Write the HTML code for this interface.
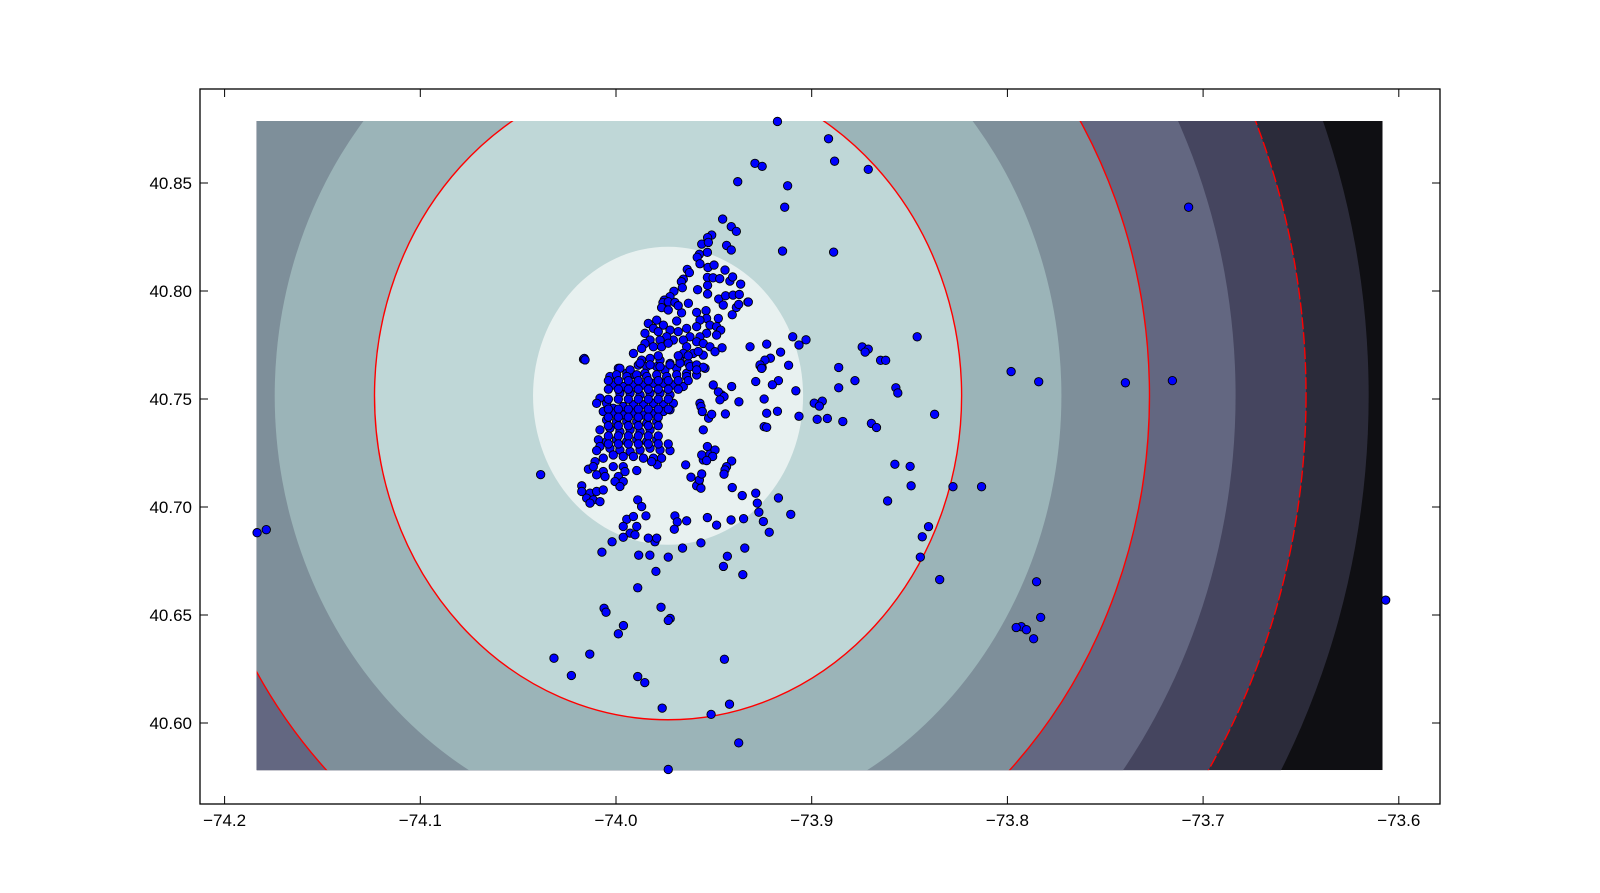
<!DOCTYPE html>
<html><head><meta charset="utf-8"><style>
html,body{margin:0;padding:0;background:#fff;width:1600px;height:893px;overflow:hidden;}
svg{display:block;overflow:hidden;}
text{font-family:"Liberation Sans","DejaVu Sans",sans-serif;font-size:17px;fill:#000;}
</style></head><body>
<svg id="chart" width="1600" height="893" viewBox="0 0 1600 893">
<rect x="0" y="0" width="1600" height="893" fill="#fff"/>
<defs>
<clipPath id="gridClip"><rect id="gridRect" x="0" y="0" width="0" height="0"/></clipPath>
<clipPath id="axClip"><rect x="200" y="89" width="1240" height="715"/></clipPath>
</defs>
<g id="contours" clip-path="url(#gridClip)"></g>
<g id="lines" clip-path="url(#gridClip)"></g>
<g id="pts" clip-path="url(#axClip)"></g>
<rect x="200" y="89" width="1240" height="715" fill="none" stroke="#000" stroke-width="1.3"/>
<g id="ticks"></g>
</svg>
<script>
const xTicks = [-74.2, -74.1, -74.0, -73.9, -73.8, -73.7, -73.6];
const xTickLabels = ["\u221274.2", "\u221274.1", "\u221274.0", "\u221273.9", "\u221273.8", "\u221273.7", "\u221273.6"];
const yTicks = [40.60, 40.65, 40.70, 40.75, 40.80, 40.85];
const yTickLabels = ["40.60", "40.65", "40.70", "40.75", "40.80", "40.85"];
const gridExtent = [-74.1836, -73.6083, 40.5782, 40.8787];
const fieldCenter = [-73.9734, 40.7515];
const levelBounds = [0.069, 0.150, 0.201, 0.246, 0.290, 0.326, 0.358];
const levelColors = ["#e8f1f0", "#bfd7d7", "#9bb4b8", "#7e8f9a", "#636781", "#45455f", "#2b2b3a"];
const outerColor = "#0f0f13";
const lineLevels = [0.150, 0.246, 0.326];
const lineDashed = [false, false, true];
const points = [
[-73.9175,40.8785],[-73.8914,40.8705],[-73.8883,40.8601],[-73.8711,40.8563],[-73.9290,40.8591],[-73.9253,40.8577],[-73.9378,40.8506],[-73.9123,40.8487],[-73.9138,40.8388],[-73.7074,40.8388],[-73.9149,40.8185],[-73.8888,40.8180],[-73.9097,40.7788],[-73.9029,40.7774],[-73.9065,40.7750],[-73.8461,40.7788],[-73.8742,40.7741],[-73.8711,40.7731],[-73.8727,40.7717],[-73.8648,40.7679],[-73.8622,40.7679],[-73.8862,40.7646],[-73.9118,40.7656],[-73.9253,40.7646],[-73.9159,40.7717],[-73.9211,40.7689],[-73.8779,40.7585],[-73.8570,40.7552],[-73.8560,40.7528],[-73.8862,40.7552],[-73.7840,40.7580],[-73.7981,40.7627],[-73.7397,40.7575],[-73.7157,40.7585],[-73.8987,40.7481],[-73.8946,40.7490],[-73.8961,40.7467],[-73.8920,40.7410],[-73.8972,40.7406],[-73.8841,40.7396],[-73.8695,40.7387],[-73.8669,40.7368],[-73.9065,40.7420],[-73.8372,40.7429],[-73.8575,40.7198],[-73.8497,40.7188],[-73.8492,40.7098],[-73.8278,40.7094],[-73.8132,40.7094],[-73.8612,40.7028],[-73.9170,40.7042],[-73.9107,40.6966],[-73.8435,40.6862],[-73.8403,40.6909],[-73.8445,40.6768],[-73.8346,40.6664],[-73.7851,40.6654],[-73.7929,40.6446],[-73.7955,40.6442],[-73.7903,40.6432],[-73.7866,40.6390],[-73.7830,40.6489],[-73.6067,40.6569],[-74.1834,40.6881],[-74.1787,40.6895],[-74.0385,40.7150],[-74.0166,40.7684],[-74.0317,40.6300],[-74.0228,40.6220],[-74.0134,40.6319],[-73.9733,40.5785],[-73.9373,40.5908],[-73.9514,40.6040],[-73.9420,40.6087],[-73.9446,40.6295],[-73.9764,40.6069],[-73.9853,40.6187],[-73.9889,40.6215],[-73.9988,40.6413],[-73.9962,40.6451],[-74.0061,40.6531],[-74.0051,40.6513],[-73.9770,40.6536],[-73.9723,40.6484],[-73.9733,40.6475],[-73.9889,40.6626],[-73.9796,40.6702],[-73.9352,40.6687],[-73.9326,40.7949],
[-73.9170,40.7585],[-73.9201,40.7566],[-73.9081,40.7538],[-73.9175,40.7443],[-73.9243,40.7372],[-73.9243,40.7500],[-73.9342,40.6810],[-73.9431,40.6772],[-73.9451,40.6725],[-73.9566,40.6834],[-73.9660,40.6810],[-73.9733,40.6768],[-73.9801,40.6839],[-73.9827,40.6777],[-73.9884,40.6777],[-74.0020,40.6839],[-74.0072,40.6791],
[-73.9455,40.8333],[-73.9411,40.8298],[-73.9385,40.8276],[-73.9511,40.8259],[-73.9532,40.8247],[-73.9562,40.8217],[-73.9528,40.8225],[-73.9435,40.8211],[-73.9411,40.8190],[-73.9533,40.8179],[-73.9574,40.8170],[-73.9585,40.8156],[-73.9571,40.8126],[-73.9530,40.8109],[-73.9499,40.8120],[-73.9443,40.8097],[-73.9636,40.8100],[-73.9625,40.8085],[-73.9656,40.8055],[-73.9666,40.8043],[-73.9533,40.8063],[-73.9504,40.8061],[-73.9470,40.8057],[-73.9418,40.8046],[-73.9404,40.8065],[-73.9363,40.8032],[-73.9532,40.8026],[-73.9661,40.8015],[-73.9583,40.8006],[-73.9704,40.7999],[-73.9724,40.7974],[-73.9753,40.7958],[-73.9760,40.7946],[-73.9733,40.7950],[-73.9699,40.7947],[-73.9630,40.7943],[-73.9532,40.7986],[-73.9475,40.7963],[-73.9440,40.7978],[-73.9402,40.7981],[-73.9370,40.7984],[-73.9452,40.7935],[-73.9324,40.7949],[-73.9385,40.7924],[-73.9373,40.7938],[-73.9406,40.7890],[-73.9767,40.7923],[-73.9733,40.7912],[-73.9665,40.7899],[-73.9682,40.7932],[-73.9588,40.7901],[-73.9540,40.7909],[-73.9477,40.7873],[-73.9537,40.7873],[-73.9571,40.7865],[-73.9690,40.7861],[-73.9835,40.7850],[-73.9792,40.7865],[-73.9758,40.7842],[-73.9724,40.7819],[-73.9809,40.7827],[-73.9852,40.7804],[-73.9639,40.7827],[-73.9588,40.7835],[-73.9520,40.7842],[-73.9486,40.7835],[-73.9465,40.7819],[-73.9486,40.7796],[-73.9537,40.7804],[-73.9571,40.7788],[-73.9622,40.7788],[-73.9656,40.7773],[-73.9707,40.7773],[-73.9741,40.7788],[-73.9775,40.7773],[-73.9826,40.7773],[-73.9852,40.7757],[-73.9869,40.7734],[-73.9809,40.7742],[-73.9767,40.7742],[-73.9639,40.7742],[-73.9588,40.7765],[-73.9554,40.7757],[-73.9520,40.7742],[-73.9494,40.7719],[-73.9458,40.7737],[-73.9554,40.7703],[-73.9605,40.7711],[-73.9656,40.7711],[-73.9673,40.7680],[-73.9630,40.7665],[-73.9588,40.7657],[-73.9545,40.7642],[-73.9724,40.7665],[-73.9775,40.7680],[-73.9826,40.7688],[-73.9869,40.7680],[-73.9886,40.7657],[-73.9843,40.7650],[-73.9792,40.7650],[-73.9750,40.7634],[-73.9690,40.7642],[-73.9639,40.7619],[-73.9588,40.7611],[-73.9852,40.7619],[-73.9903,40.7611],[-73.9945,40.7619],[-73.9988,40.7642],[-74.0031,40.7603],[-73.9911,40.7711],[-74.0162,40.7688],[-73.9315,40.7742],[-73.9230,40.7754],[-73.9239,40.7680],[-73.9264,40.7654],[-73.9256,40.7642],
[-74.0158,40.7681],[-73.9877,40.7666],[-73.9826,40.7658],[-73.9775,40.7650],[-73.9724,40.7658],[-73.9673,40.7666],[-73.9622,40.7650],[-73.9588,40.7658],[-73.9554,40.7647],[-73.9980,40.7642],[-73.9928,40.7635],[-74.0031,40.7604],[-73.9997,40.7612],[-73.9945,40.7604],[-73.9894,40.7612],[-73.9843,40.7604],[-73.9792,40.7612],[-73.9741,40.7604],[-73.9690,40.7612],[-73.9639,40.7604],[-73.9588,40.7635],[-74.0014,40.7565],[-73.9963,40.7558],[-73.9911,40.7565],[-73.9860,40.7565],[-73.9809,40.7573],[-73.9758,40.7573],[-73.9707,40.7565],[-73.9656,40.7558],[-73.9980,40.7527],[-73.9928,40.7527],[-73.9877,40.7519],[-73.9826,40.7527],[-73.9775,40.7527],[-73.9724,40.7519],[-74.0082,40.7504],[-74.0099,40.7480],[-74.0048,40.7480],[-74.0014,40.7457],[-73.9963,40.7465],[-73.9911,40.7473],[-73.9860,40.7473],[-73.9809,40.7480],[-73.9758,40.7473],[-73.9707,40.7480],[-74.0065,40.7442],[-74.0014,40.7434],[-73.9963,40.7426],[-73.9911,40.7434],[-73.9860,40.7426],[-73.9809,40.7434],[-73.9758,40.7442],[-73.9724,40.7450],[-74.0048,40.7403],[-73.9997,40.7396],[-73.9945,40.7396],[-73.9894,40.7396],[-73.9843,40.7388],[-73.9792,40.7396],[-74.0082,40.7357],[-74.0031,40.7365],[-73.9980,40.7349],[-73.9928,40.7357],[-73.9877,40.7349],[-73.9826,40.7357],[-74.0090,40.7311],[-74.0048,40.7303],[-73.9997,40.7311],[-73.9945,40.7303],[-73.9894,40.7311],[-73.9843,40.7303],[-73.9792,40.7311],[-74.0082,40.7280],[-74.0031,40.7272],[-73.9980,40.7264],[-73.9928,40.7257],[-73.9877,40.7264],[-73.9826,40.7272],[-73.9775,40.7264],[-73.9724,40.7261],[-74.0099,40.7261],[-74.0014,40.7241],[-73.9963,40.7234],[-73.9911,40.7234],[-73.9860,40.7226],[-73.9809,40.7226],[-73.9767,40.7226],[-74.0065,40.7226],[-74.0107,40.7210],[-74.0141,40.7175],[-74.0116,40.7187],[-74.0065,40.7164],[-74.0014,40.7187],[-73.9963,40.7187],[-73.9954,40.7164],[-73.9894,40.7169],[-74.0099,40.7149],[-74.0056,40.7141],[-73.9988,40.7141],[-73.9963,40.7118],[-74.0005,40.7118],[-73.9980,40.7095],[-74.0175,40.7098],[-74.0175,40.7072],[-74.0133,40.7064],[-74.0150,40.7041],[-74.0116,40.7033],[-74.0082,40.7025],[-74.0099,40.7072],[-74.0065,40.7079],[-74.0133,40.7018],[-73.9789,40.7195],[-73.9818,40.7210],[-73.9889,40.7033],[-73.9869,40.7002],[-73.9847,40.6959],[-73.9945,40.6943],[-73.9911,40.6956],[-73.9963,40.6910],[-73.9894,40.6910],[-73.9928,40.6879],[-73.9903,40.6871],[-73.9963,40.6860],[-73.9835,40.6856],[-73.9792,40.6856],[-73.9699,40.6959],[-73.9687,40.6931],[-73.9639,40.6936],[-73.9702,40.6897],[-73.9533,40.6951],[-73.9486,40.6916],[-73.9412,40.6940],[-73.9348,40.6946],[-73.9247,40.6933],[-73.9217,40.6883],[-73.9644,40.7195],[-73.9617,40.7138],[-73.9578,40.7110],[-73.9588,40.7098],[-73.9566,40.7087],[-73.9574,40.7125],[-73.9562,40.7153],[-73.9554,40.7218],[-73.9562,40.7241],[-73.9533,40.7280],[-73.9520,40.7244],[-73.9494,40.7264],[-73.9506,40.7234],[-73.9537,40.7215],[-73.9409,40.7213],[-73.9435,40.7187],[-73.9443,40.7172],[-73.9448,40.7152],[-73.9406,40.7090],[-73.9355,40.7053],[-73.9286,40.7064],[-73.9278,40.7018],[-73.9270,40.6976],[-73.9554,40.7357],[-73.9571,40.7480],[-73.9566,40.7465],[-73.9559,40.7442],[-73.9527,40.7411],[-73.9511,40.7429],[-73.9441,40.7431],[-73.9460,40.7519],[-73.9477,40.7533],[-73.9448,40.7511],[-73.9469,40.7496],[-73.9409,40.7558],[-73.9372,40.7487],[-73.9286,40.7581],[-73.9264,40.7658],[-73.9256,40.7642],[-73.9230,40.7434],[-73.9230,40.7369],[-73.9503,40.7565],
[-74.0039,40.7585],[-73.9988,40.7585],[-73.9937,40.7585],[-73.9886,40.7585],[-73.9835,40.7585],[-73.9784,40.7585],[-73.9733,40.7585],[-73.9682,40.7585],[-73.9631,40.7585],
[-74.0039,40.7545],[-73.9988,40.7545],[-73.9937,40.7545],[-73.9886,40.7545],[-73.9835,40.7545],[-73.9784,40.7545],[-73.9733,40.7545],[-73.9682,40.7545],
[-74.0039,40.7499],[-73.9988,40.7499],[-73.9937,40.7499],[-73.9886,40.7499],[-73.9835,40.7499],[-73.9784,40.7499],[-73.9733,40.7499],
[-74.0039,40.7453],[-73.9988,40.7453],[-73.9937,40.7453],[-73.9886,40.7453],[-73.9835,40.7453],[-73.9784,40.7453],[-73.9733,40.7453],
[-74.0039,40.7416],[-73.9988,40.7416],[-73.9937,40.7416],[-73.9886,40.7416],[-73.9835,40.7416],[-73.9784,40.7416],
[-74.0039,40.7376],[-73.9988,40.7376],[-73.9937,40.7376],[-73.9886,40.7376],[-73.9835,40.7376],[-73.9784,40.7376],
[-74.0039,40.7329],[-73.9988,40.7329],[-73.9937,40.7329],[-73.9886,40.7329],[-73.9835,40.7329],[-73.9784,40.7329],
[-74.0039,40.7292],[-73.9988,40.7292],[-73.9937,40.7292],[-73.9886,40.7292],[-73.9835,40.7292],[-73.9784,40.7292],[-73.9733,40.7292],
[-73.9784,40.7812],[-73.9682,40.7812],[-73.9733,40.7758],[-73.9682,40.7700],[-73.9784,40.7700],[-73.9631,40.7700],[-73.9580,40.7720]
];

const NS = "http://www.w3.org/2000/svg";
function xScale(lon){ return 224.6 + (lon + 74.2) * 1957; }
function yScale(lat){ return 183 + (40.85 - lat) * 2160; }
function mk(tag, attrs, parent){ const e = document.createElementNS(NS, tag); for (const k in attrs) e.setAttribute(k, attrs[k]); parent.appendChild(e); return e; }

const gr = document.getElementById('gridRect');
gr.setAttribute('x', xScale(gridExtent[0]));
gr.setAttribute('y', yScale(gridExtent[3]));
gr.setAttribute('width', xScale(gridExtent[1]) - xScale(gridExtent[0]));
gr.setAttribute('height', yScale(gridExtent[2]) - yScale(gridExtent[3]));

const cg = document.getElementById('contours');
const bg = mk('rect', {x: xScale(gridExtent[0]), y: yScale(gridExtent[3]), width: xScale(gridExtent[1]) - xScale(gridExtent[0]), height: yScale(gridExtent[2]) - yScale(gridExtent[3]), fill: outerColor}, cg);


const cx = xScale(fieldCenter[0]), cy = yScale(fieldCenter[1]);
for (let i = levelBounds.length - 1; i >= 0; i--) {
  const r = levelBounds[i];
  const e = mk('ellipse', {cx: cx, cy: cy, rx: r * 1957, ry: r * 2160, fill: levelColors[i]}, cg);
  
  
}
const lg = document.getElementById('lines');
lineLevels.forEach((r, i) => {
  const e = mk('ellipse', {cx: cx, cy: cy, rx: r * 1957, ry: r * 2160, fill: 'none', stroke: '#ff0000', 'stroke-width': 1.4}, lg);
  if (lineDashed[i]) e.setAttribute('stroke-dasharray', '12,3');
  
  
});

const pg = document.getElementById('pts');
points.forEach((p) => {
  const c = mk('circle', {cx: xScale(p[0]), cy: yScale(p[1]), r: 4.2, fill: '#0000ff', stroke: '#000', 'stroke-width': 0.9}, pg);
  
  
});

const tg = document.getElementById('ticks');
xTicks.forEach((v, i) => {
  const x = xScale(v);
  mk('line', {x1: x, y1: 804, x2: x, y2: 796, stroke: '#000', 'stroke-width': 1}, tg);
  mk('line', {x1: x, y1: 89, x2: x, y2: 97, stroke: '#000', 'stroke-width': 1}, tg);
  const t = mk('text', {x: x, y: 826, 'text-anchor': 'middle'}, tg);
  t.textContent = xTickLabels[i];
  
  
});
yTicks.forEach((v, i) => {
  const y = yScale(v);
  mk('line', {x1: 200, y1: y, x2: 208, y2: y, stroke: '#000', 'stroke-width': 1}, tg);
  mk('line', {x1: 1440, y1: y, x2: 1432, y2: y, stroke: '#000', 'stroke-width': 1}, tg);
  const t = mk('text', {x: 192, y: y + 6, 'text-anchor': 'end'}, tg);
  t.textContent = yTickLabels[i];
  
  
});
</script>
</body></html>
